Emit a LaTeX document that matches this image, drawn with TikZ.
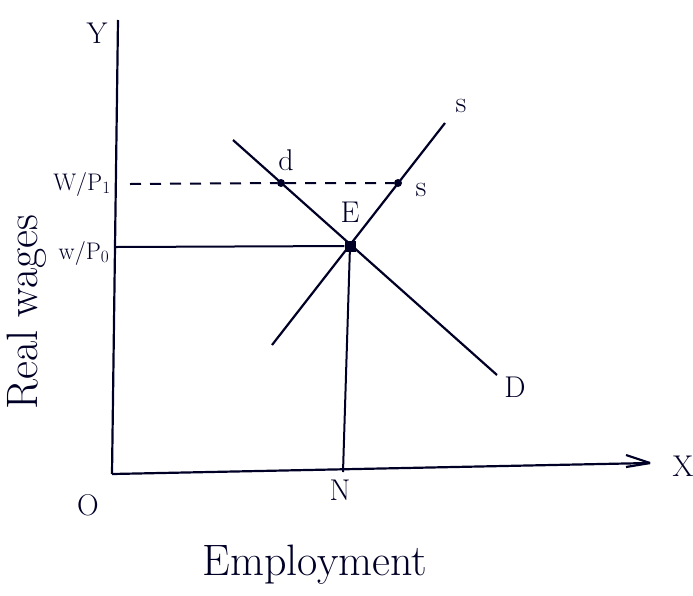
\documentclass[tikz,border=0pt]{standalone}
\usepackage{tikz}
\usetikzlibrary{positioning}

\begin{document}
\begin{tikzpicture}[
  x=1pt, y=-1pt,
  curve/.style={line width=2.2pt, draw=black!85!blue},
  guide/.style={line width=2pt, draw=black!85!blue},
  lbl/.style={font=\fontsize{30}{32}\selectfont, text=black!85!blue, inner sep=1pt},
  biglbl/.style={lbl, font=\fontsize{44}{46}\selectfont},
  dotpt/.style={circle, fill=black!85!blue, inner sep=0pt, minimum size=8pt}
]
\useasboundingbox (0,0) rectangle (693,595);

% axes
\coordinate (O) at (112,474);
\coordinate (ytop) at (118,20);
\coordinate (xend) at (650,463);
\draw[curve] (O) -- (ytop);
\draw[curve] (O) -- (xend);
\draw[curve] (xend) -- ++(-24,-8);
\draw[curve] (xend) -- ++(-24,4);

% demand and supply
\coordinate (d1) at (233,140);
\coordinate (d2) at (497,375);
\coordinate (s1) at (272,345);
\coordinate (s2) at (445,123);
\draw[curve] (d1) -- (d2);
\draw[curve] (s1) -- (s2);

% equilibrium
\node[dotpt, rectangle, minimum size=11pt] (E) at (350,246) {};
\node[dotpt] (dpt) at (281,183) {};
\node[dotpt] (spt) at (398,183) {};
\coordinate (wp0) at (116,247);
\coordinate (wp1) at (130,184);
\coordinate (N) at (343,472);
\draw[guide] (wp0) -- (E);
\draw[guide] (E) -- (N);
\draw[guide, dash pattern=on 11pt off 9pt] (wp1) -- (dpt) -- (spt);

% labels
\node[lbl] (ylab) at (97,33) {Y};
\node[lbl] (xlab) at (683,466) {X};
\node[lbl] (olab) at (88,505) {O};
\node[lbl] (nlab) at (340,490) {N};
\node[lbl, font=\fontsize{24}{26}\selectfont] (w1lab) at (82,184) {W/P$_1$};
\node[lbl, font=\fontsize{24}{26}\selectfont] (w0lab) at (84,253) {w/P$_0$};
\node[lbl] (dlab) at (286,160) {d};
\node[lbl] (slab) at (421,190) {s};
\node[lbl] (elab) at (350,212) {E};
\node[lbl] (Slab) at (461,106) {s};
\node[lbl] (Dlab) at (515,387) {D};
\node[biglbl] (emplab) at (315,565) {Employment};
\node[biglbl, rotate=90] (rwlab) at (27,312) {Real wages};
\end{tikzpicture}
\end{document}
